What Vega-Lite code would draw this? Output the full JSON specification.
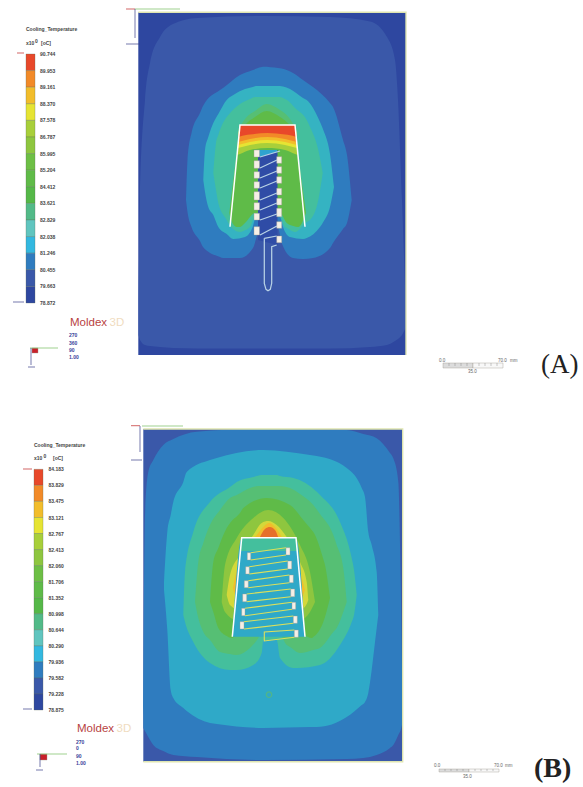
{"$schema":"https://vega.github.io/schema/vega-lite/v6.json","width":583,"height":787,"padding":0,"autosize":{"type":"fit","contains":"padding"},"background":"white","view":{"stroke":null},
"datasets":{
"regions":[
{"s":"A0","c":"c15","x":138.3,"y":12.3,"y2":355},{"s":"A0","c":"c15","x":406,"y":12.3,"y2":355},
{"s":"A1","c":"c14","x":138.5,"y":300,"y2":335},{"s":"A1","c":"c14","x":140,"y":200,"y2":340},{"s":"A1","c":"c14","x":145,"y":100,"y2":345},{"s":"A1","c":"c14","x":150,"y":63,"y2":346},{"s":"A1","c":"c14","x":160,"y":37,"y2":347},{"s":"A1","c":"c14","x":173,"y":24,"y2":348},{"s":"A1","c":"c14","x":197,"y":18,"y2":348.5},{"s":"A1","c":"c14","x":263,"y":16,"y2":348.5},{"s":"A1","c":"c14","x":330,"y":17,"y2":348.5},{"s":"A1","c":"c14","x":370,"y":21.5,"y2":347},{"s":"A1","c":"c14","x":387,"y":37,"y2":345},{"s":"A1","c":"c14","x":395,"y":60,"y2":341},{"s":"A1","c":"c14","x":398,"y":100,"y2":339},{"s":"A1","c":"c14","x":402,"y":200,"y2":335},{"s":"A1","c":"c14","x":405.5,"y":300,"y2":328},
{"s":"A2","c":"c13","x":186,"y":200,"y2":200},{"s":"A2","c":"c13","x":187.5,"y":160,"y2":212},{"s":"A2","c":"c13","x":191.5,"y":133,"y2":227},{"s":"A2","c":"c13","x":200,"y":113,"y2":241},{"s":"A2","c":"c13","x":203,"y":106,"y2":247},{"s":"A2","c":"c13","x":220,"y":90,"y2":257},{"s":"A2","c":"c13","x":223,"y":88,"y2":258},{"s":"A2","c":"c13","x":240,"y":75,"y2":258},{"s":"A2","c":"c13","x":253,"y":70,"y2":248},{"s":"A2","c":"c13","x":258,"y":68,"y2":233},{"s":"A2","c":"c13","x":263,"y":66.7,"y2":228},{"s":"A2","c":"c13","x":278,"y":68,"y2":228},{"s":"A2","c":"c13","x":281.7,"y":68.5,"y2":243},{"s":"A2","c":"c13","x":293,"y":73,"y2":258},{"s":"A2","c":"c13","x":303,"y":80,"y2":259},{"s":"A2","c":"c13","x":313,"y":87,"y2":258},{"s":"A2","c":"c13","x":330,"y":103,"y2":248},{"s":"A2","c":"c13","x":333,"y":107,"y2":243},{"s":"A2","c":"c13","x":343,"y":140,"y2":229},{"s":"A2","c":"c13","x":347,"y":155,"y2":223},{"s":"A2","c":"c13","x":351.7,"y":200,"y2":200},
{"s":"A3","c":"t1","x":203.3,"y":180,"y2":180},{"s":"A3","c":"t1","x":205,"y":150,"y2":192},{"s":"A3","c":"t1","x":208.3,"y":137,"y2":207},{"s":"A3","c":"t1","x":213.3,"y":123,"y2":215},{"s":"A3","c":"t1","x":218.3,"y":114,"y2":227},{"s":"A3","c":"t1","x":226.7,"y":100,"y2":234},{"s":"A3","c":"t1","x":233.3,"y":95,"y2":239},{"s":"A3","c":"t1","x":245,"y":89,"y2":237},{"s":"A3","c":"t1","x":252.7,"y":87,"y2":227},{"s":"A3","c":"t1","x":256,"y":86,"y2":217},{"s":"A3","c":"t1","x":280,"y":86,"y2":217},{"s":"A3","c":"t1","x":283,"y":86.5,"y2":227},{"s":"A3","c":"t1","x":290,"y":89,"y2":237},{"s":"A3","c":"t1","x":303,"y":98,"y2":239},{"s":"A3","c":"t1","x":306.7,"y":100,"y2":238},{"s":"A3","c":"t1","x":320,"y":122,"y2":227},{"s":"A3","c":"t1","x":323.3,"y":130,"y2":222},{"s":"A3","c":"t1","x":330,"y":154,"y2":207},{"s":"A3","c":"t1","x":334,"y":187,"y2":187},
{"s":"A4","c":"t2","x":213.3,"y":173,"y2":173},{"s":"A4","c":"t2","x":216,"y":143,"y2":190},{"s":"A4","c":"t2","x":218.3,"y":135,"y2":203},{"s":"A4","c":"t2","x":226.7,"y":117,"y2":220},{"s":"A4","c":"t2","x":228.3,"y":115,"y2":223},{"s":"A4","c":"t2","x":240,"y":104,"y2":232},{"s":"A4","c":"t2","x":243.3,"y":102,"y2":231},{"s":"A4","c":"t2","x":250,"y":99,"y2":227},{"s":"A4","c":"t2","x":255,"y":97,"y2":217},{"s":"A4","c":"t2","x":280,"y":97,"y2":217},{"s":"A4","c":"t2","x":285,"y":99,"y2":227},{"s":"A4","c":"t2","x":287,"y":100,"y2":228},{"s":"A4","c":"t2","x":295,"y":108,"y2":232},{"s":"A4","c":"t2","x":306.7,"y":120,"y2":222},{"s":"A4","c":"t2","x":310,"y":127,"y2":220},{"s":"A4","c":"t2","x":318.3,"y":150,"y2":200},{"s":"A4","c":"t2","x":322.7,"y":173,"y2":173},
{"s":"A4b","c":"t5","x":238,"y":130,"y2":130},{"s":"A4b","c":"t5","x":246.7,"y":117,"y2":130},{"s":"A4b","c":"t5","x":255,"y":111,"y2":130},{"s":"A4b","c":"t5","x":266.7,"y":104,"y2":130},{"s":"A4b","c":"t5","x":280,"y":110,"y2":130},{"s":"A4b","c":"t5","x":286.7,"y":115,"y2":130},{"s":"A4b","c":"t5","x":297,"y":130,"y2":130},
{"s":"A5","c":"c08","x":229.3,"y":213,"y2":213},{"s":"A5","c":"c08","x":231,"y":199,"y2":220},{"s":"A5","c":"c08","x":236.7,"y":154,"y2":227},{"s":"A5","c":"c08","x":240,"y":132,"y2":227},{"s":"A5","c":"c08","x":245,"y":125,"y2":223},{"s":"A5","c":"c08","x":255,"y":117,"y2":213},{"s":"A5","c":"c08","x":266.7,"y":111,"y2":213},{"s":"A5","c":"c08","x":280,"y":117,"y2":213},{"s":"A5","c":"c08","x":286.7,"y":122,"y2":223},{"s":"A5","c":"c08","x":293.3,"y":130,"y2":226},{"s":"A5","c":"c08","x":298.3,"y":159,"y2":227},{"s":"A5","c":"c08","x":306,"y":213,"y2":213},
{"s":"A6","c":"c05","x":237,"y":155,"y2":155},{"s":"A6","c":"c05","x":240,"y":125,"y2":154},{"s":"A6","c":"c05","x":250,"y":125,"y2":150},{"s":"A6","c":"c05","x":267.5,"y":125,"y2":148},{"s":"A6","c":"c05","x":285,"y":125,"y2":150},{"s":"A6","c":"c05","x":295,"y":125,"y2":154},{"s":"A6","c":"c05","x":298,"y":155,"y2":155},
{"s":"A7","c":"c04","x":237.7,"y":148,"y2":148},{"s":"A7","c":"c04","x":240,"y":125,"y2":147.5},{"s":"A7","c":"c04","x":250,"y":125,"y2":145},{"s":"A7","c":"c04","x":267.5,"y":125,"y2":143},{"s":"A7","c":"c04","x":285,"y":125,"y2":145},{"s":"A7","c":"c04","x":295,"y":125,"y2":147.5},{"s":"A7","c":"c04","x":297.3,"y":148,"y2":148},
{"s":"A8","c":"c03","x":238,"y":145,"y2":145},{"s":"A8","c":"c03","x":240,"y":125,"y2":144.5},{"s":"A8","c":"c03","x":250,"y":125,"y2":142},{"s":"A8","c":"c03","x":267.5,"y":125,"y2":140},{"s":"A8","c":"c03","x":285,"y":125,"y2":142},{"s":"A8","c":"c03","x":295,"y":125,"y2":144.5},{"s":"A8","c":"c03","x":297,"y":145,"y2":145},
{"s":"A9","c":"c02","x":238.3,"y":142,"y2":142},{"s":"A9","c":"c02","x":240,"y":125,"y2":141.5},{"s":"A9","c":"c02","x":250,"y":125,"y2":139},{"s":"A9","c":"c02","x":267.5,"y":125,"y2":137},{"s":"A9","c":"c02","x":285,"y":125,"y2":139},{"s":"A9","c":"c02","x":295,"y":125,"y2":141.5},{"s":"A9","c":"c02","x":296.7,"y":142,"y2":142},
{"s":"A10","c":"c01","x":238.8,"y":137,"y2":137},{"s":"A10","c":"c01","x":240,"y":125,"y2":136.5},{"s":"A10","c":"c01","x":250,"y":125,"y2":134.5},{"s":"A10","c":"c01","x":267.5,"y":125,"y2":133},{"s":"A10","c":"c01","x":285,"y":125,"y2":134.5},{"s":"A10","c":"c01","x":295,"y":125,"y2":136.5},{"s":"A10","c":"c01","x":296.2,"y":137,"y2":137},
{"s":"A11","c":"c16","x":258,"y":150,"y2":240},{"s":"A11","c":"c16","x":277.5,"y":150,"y2":245},
{"s":"A12","c":"t3","x":259,"y":150,"y2":157},{"s":"A12","c":"t3","x":277,"y":150,"y2":152},
{"s":"B0","c":"c14","x":143.3,"y":429,"y2":761.7},{"s":"B0","c":"c14","x":402.7,"y":429,"y2":761.7},
{"s":"B1","c":"c13","x":143.3,"y":715,"y2":728},{"s":"B1","c":"c13","x":145,"y":515,"y2":731},{"s":"B1","c":"c13","x":148.3,"y":472,"y2":737},{"s":"B1","c":"c13","x":153.3,"y":460,"y2":745},{"s":"B1","c":"c13","x":163.3,"y":445,"y2":751},{"s":"B1","c":"c13","x":173.3,"y":439,"y2":755},{"s":"B1","c":"c13","x":196.7,"y":431.7,"y2":757},{"s":"B1","c":"c13","x":263.3,"y":429,"y2":760},{"s":"B1","c":"c13","x":346.7,"y":430,"y2":759},{"s":"B1","c":"c13","x":363.3,"y":434,"y2":758},{"s":"B1","c":"c13","x":376.7,"y":438.3,"y2":755},{"s":"B1","c":"c13","x":390,"y":453,"y2":748},{"s":"B1","c":"c13","x":393.3,"y":458.3,"y2":745},{"s":"B1","c":"c13","x":398.3,"y":481.7,"y2":735},{"s":"B1","c":"c13","x":400.7,"y":581.7,"y2":730},{"s":"B1","c":"c13","x":402.7,"y":715,"y2":722},
{"s":"B2","c":"t4","x":164,"y":582,"y2":590},{"s":"B2","c":"t4","x":167.3,"y":532,"y2":630},{"s":"B2","c":"t4","x":170.7,"y":515,"y2":690},{"s":"B2","c":"t4","x":173.3,"y":502,"y2":698},{"s":"B2","c":"t4","x":183.3,"y":482,"y2":708},{"s":"B2","c":"t4","x":186.7,"y":472,"y2":711},{"s":"B2","c":"t4","x":210,"y":460,"y2":723},{"s":"B2","c":"t4","x":216.7,"y":458,"y2":724},{"s":"B2","c":"t4","x":263.3,"y":450,"y2":728},{"s":"B2","c":"t4","x":310,"y":455,"y2":727},{"s":"B2","c":"t4","x":316.7,"y":456,"y2":727},{"s":"B2","c":"t4","x":346.7,"y":468,"y2":717},{"s":"B2","c":"t4","x":361.7,"y":488,"y2":705},{"s":"B2","c":"t4","x":365,"y":497,"y2":702},{"s":"B2","c":"t4","x":368.3,"y":532,"y2":693},{"s":"B2","c":"t4","x":371.7,"y":545,"y2":670},{"s":"B2","c":"t4","x":376.7,"y":572,"y2":628},{"s":"B2","c":"t4","x":378.3,"y":615,"y2":615},
{"s":"B3","c":"t2","x":183.3,"y":615,"y2":615},{"s":"B3","c":"t2","x":185,"y":572,"y2":622},{"s":"B3","c":"t2","x":193.3,"y":532,"y2":642},{"s":"B3","c":"t2","x":210,"y":502,"y2":663},{"s":"B3","c":"t2","x":230,"y":487,"y2":670},{"s":"B3","c":"t2","x":236.7,"y":482,"y2":670},{"s":"B3","c":"t2","x":253.3,"y":477,"y2":665},{"s":"B3","c":"t2","x":261.7,"y":475,"y2":653},{"s":"B3","c":"t2","x":263.3,"y":475,"y2":640},{"s":"B3","c":"t2","x":276.7,"y":475,"y2":640},{"s":"B3","c":"t2","x":280,"y":476,"y2":658},{"s":"B3","c":"t2","x":293.3,"y":478,"y2":668},{"s":"B3","c":"t2","x":296.7,"y":479,"y2":668},{"s":"B3","c":"t2","x":320,"y":495,"y2":665},{"s":"B3","c":"t2","x":340,"y":522,"y2":645},{"s":"B3","c":"t2","x":351.7,"y":558,"y2":622},{"s":"B3","c":"t2","x":354,"y":570,"y2":615},{"s":"B3","c":"t2","x":356.7,"y":595,"y2":595},
{"s":"B4","c":"t5","x":195,"y":602,"y2":602},{"s":"B4","c":"t5","x":198.3,"y":562,"y2":618},{"s":"B4","c":"t5","x":203.3,"y":543,"y2":632},{"s":"B4","c":"t5","x":210,"y":525,"y2":640},{"s":"B4","c":"t5","x":220,"y":510,"y2":652},{"s":"B4","c":"t5","x":230,"y":498,"y2":654},{"s":"B4","c":"t5","x":236.7,"y":495,"y2":655},{"s":"B4","c":"t5","x":250,"y":488,"y2":648},{"s":"B4","c":"t5","x":258.3,"y":486,"y2":638},{"s":"B4","c":"t5","x":261.7,"y":486,"y2":632},{"s":"B4","c":"t5","x":278.3,"y":486,"y2":632},{"s":"B4","c":"t5","x":286.7,"y":487,"y2":645},{"s":"B4","c":"t5","x":290,"y":488,"y2":647},{"s":"B4","c":"t5","x":300,"y":494,"y2":653},{"s":"B4","c":"t5","x":313.3,"y":505,"y2":650},{"s":"B4","c":"t5","x":320,"y":514,"y2":648},{"s":"B4","c":"t5","x":333.3,"y":535,"y2":632},{"s":"B4","c":"t5","x":336.7,"y":545,"y2":628},{"s":"B4","c":"t5","x":343.3,"y":568,"y2":612},{"s":"B4","c":"t5","x":346.7,"y":602,"y2":602},
{"s":"B5","c":"c08","x":210,"y":602,"y2":602},{"s":"B5","c":"c08","x":213.3,"y":562,"y2":612},{"s":"B5","c":"c08","x":218.3,"y":548,"y2":628},{"s":"B5","c":"c08","x":226.7,"y":528,"y2":636},{"s":"B5","c":"c08","x":231.7,"y":521,"y2":638},{"s":"B5","c":"c08","x":240,"y":513,"y2":633},{"s":"B5","c":"c08","x":243.3,"y":508,"y2":632},{"s":"B5","c":"c08","x":266.7,"y":498,"y2":630},{"s":"B5","c":"c08","x":290,"y":505,"y2":632},{"s":"B5","c":"c08","x":303.3,"y":520,"y2":635},{"s":"B5","c":"c08","x":311.7,"y":530,"y2":638},{"s":"B5","c":"c08","x":313.3,"y":532,"y2":637},{"s":"B5","c":"c08","x":323.3,"y":559,"y2":622},{"s":"B5","c":"c08","x":325,"y":565,"y2":617},{"s":"B5","c":"c08","x":330,"y":598,"y2":598},
{"s":"B6","c":"c06","x":221.7,"y":602,"y2":602},{"s":"B6","c":"c06","x":225,"y":565,"y2":612},{"s":"B6","c":"c06","x":236.7,"y":538,"y2":620},{"s":"B6","c":"c06","x":253.3,"y":518,"y2":620},{"s":"B6","c":"c06","x":268.3,"y":510,"y2":620},{"s":"B6","c":"c06","x":283.3,"y":518,"y2":620},{"s":"B6","c":"c06","x":300,"y":545,"y2":620},{"s":"B6","c":"c06","x":310,"y":572,"y2":612},{"s":"B6","c":"c06","x":315,"y":602,"y2":602},
{"s":"B7","c":"t6","x":226.7,"y":595,"y2":595},{"s":"B7","c":"t6","x":230,"y":575,"y2":605},{"s":"B7","c":"t6","x":240,"y":555,"y2":610},{"s":"B7","c":"t6","x":253.3,"y":535,"y2":610},{"s":"B7","c":"t6","x":261.7,"y":523,"y2":610},{"s":"B7","c":"t6","x":268.3,"y":521,"y2":610},{"s":"B7","c":"t6","x":276.7,"y":525,"y2":610},{"s":"B7","c":"t6","x":286.7,"y":537,"y2":610},{"s":"B7","c":"t6","x":300,"y":562,"y2":610},{"s":"B7","c":"t6","x":306.7,"y":582,"y2":604},{"s":"B7","c":"t6","x":308.3,"y":600,"y2":600},
{"s":"B8","c":"c03","x":233,"y":588,"y2":588},{"s":"B8","c":"c03","x":238,"y":565,"y2":600},{"s":"B8","c":"c03","x":245,"y":550,"y2":600},{"s":"B8","c":"c03","x":256.7,"y":535,"y2":600},{"s":"B8","c":"c03","x":263.3,"y":527,"y2":600},{"s":"B8","c":"c03","x":269.3,"y":523,"y2":600},{"s":"B8","c":"c03","x":275,"y":527,"y2":600},{"s":"B8","c":"c03","x":281.7,"y":537,"y2":600},{"s":"B8","c":"c03","x":290,"y":555,"y2":600},{"s":"B8","c":"c03","x":300,"y":572,"y2":600},{"s":"B8","c":"c03","x":305,"y":590,"y2":590},
{"s":"B9","c":"t7","x":260,"y":537,"y2":538},{"s":"B9","c":"t7","x":265,"y":529,"y2":538},{"s":"B9","c":"t7","x":270,"y":527,"y2":538},{"s":"B9","c":"t7","x":275,"y":530,"y2":538},{"s":"B9","c":"t7","x":278.3,"y":537.5,"y2":538},
{"s":"B10","c":"t4","x":232.3,"y":636.7,"y2":636.7},{"s":"B10","c":"t4","x":241.7,"y":537.7,"y2":636.7},{"s":"B10","c":"t4","x":296,"y":537.7,"y2":636.7},{"s":"B10","c":"t4","x":305,"y":636.7,"y2":636.7},
{"s":"B11","c":"t2","x":240.5,"y":551,"y2":551},{"s":"B11","c":"t2","x":241.7,"y":537.7,"y2":551},{"s":"B11","c":"t2","x":296,"y":537.7,"y2":551},{"s":"B11","c":"t2","x":297.3,"y":551,"y2":551}
],
"legend":[
{"c":"c01","x":26,"x2":35,"y":54,"y2":70.6},{"c":"c02","x":26,"x2":35,"y":70.6,"y2":87.2},{"c":"c03","x":26,"x2":35,"y":87.2,"y2":103.8},{"c":"c04","x":26,"x2":35,"y":103.8,"y2":120.4},{"c":"c05","x":26,"x2":35,"y":120.4,"y2":137},{"c":"c06","x":26,"x2":35,"y":137,"y2":153.6},{"c":"c07","x":26,"x2":35,"y":153.6,"y2":170.2},{"c":"c08","x":26,"x2":35,"y":170.2,"y2":186.8},{"c":"c09","x":26,"x2":35,"y":186.8,"y2":203.4},{"c":"c10","x":26,"x2":35,"y":203.4,"y2":220},{"c":"c11","x":26,"x2":35,"y":220,"y2":236.6},{"c":"c12","x":26,"x2":35,"y":236.6,"y2":253.2},{"c":"c13","x":26,"x2":35,"y":253.2,"y2":269.8},{"c":"c14","x":26,"x2":35,"y":269.8,"y2":286.4},{"c":"c15","x":26,"x2":35,"y":286.4,"y2":303},
{"c":"c01","x":34,"x2":43,"y":469.3,"y2":485.4},{"c":"c02","x":34,"x2":43,"y":485.4,"y2":501.4},{"c":"c03","x":34,"x2":43,"y":501.4,"y2":517.5},{"c":"c04","x":34,"x2":43,"y":517.5,"y2":533.5},{"c":"c05","x":34,"x2":43,"y":533.5,"y2":549.6},{"c":"c06","x":34,"x2":43,"y":549.6,"y2":565.6},{"c":"c07","x":34,"x2":43,"y":565.6,"y2":581.7},{"c":"c08","x":34,"x2":43,"y":581.7,"y2":597.7},{"c":"c09","x":34,"x2":43,"y":597.7,"y2":613.8},{"c":"c10","x":34,"x2":43,"y":613.8,"y2":629.8},{"c":"c11","x":34,"x2":43,"y":629.8,"y2":645.9},{"c":"c12","x":34,"x2":43,"y":645.9,"y2":661.9},{"c":"c13","x":34,"x2":43,"y":661.9,"y2":678},{"c":"c14","x":34,"x2":43,"y":678,"y2":694},{"c":"c15","x":34,"x2":43,"y":694,"y2":710}
],
"squares":[
{"c":"w","x":254,"x2":259.5,"y":150,"y2":157},{"c":"w","x":254,"x2":259.5,"y":160.7,"y2":168.3},{"c":"w","x":254,"x2":259.5,"y":171.7,"y2":178.3},{"c":"w","x":254,"x2":259.5,"y":181.7,"y2":188.3},{"c":"w","x":254,"x2":259.5,"y":191.7,"y2":200},{"c":"w","x":254,"x2":259.5,"y":202.7,"y2":210},{"c":"w","x":254,"x2":259.5,"y":213.3,"y2":220},{"c":"w","x":254,"x2":259.5,"y":226.7,"y2":235},
{"c":"w","x":276.7,"x2":281.7,"y":156.7,"y2":163.3},{"c":"w","x":276.7,"x2":281.7,"y":166.7,"y2":173.3},{"c":"w","x":276.7,"x2":281.7,"y":176.7,"y2":183.3},{"c":"w","x":276.7,"x2":281.7,"y":188.3,"y2":195},{"c":"w","x":276.7,"x2":281.7,"y":198.3,"y2":205},{"c":"w","x":276.7,"x2":281.7,"y":208.3,"y2":216.7},{"c":"w","x":276.7,"x2":281.7,"y":221.7,"y2":228.3},{"c":"w","x":276.7,"x2":281.7,"y":236,"y2":242.7},
{"c":"w","x":247.3,"x2":250.7,"y":552.7,"y2":560},{"c":"w","x":286,"x2":290,"y":547.7,"y2":555},{"c":"w","x":245.7,"x2":249.3,"y":566.7,"y2":574},{"c":"w","x":287.7,"x2":291.7,"y":561,"y2":569},{"c":"w","x":244.3,"x2":248.3,"y":580.7,"y2":587.7},{"c":"w","x":289.3,"x2":293.3,"y":575,"y2":582.7},{"c":"w","x":242.7,"x2":246.7,"y":594,"y2":601.7},{"c":"w","x":290.7,"x2":294.7,"y":589,"y2":596.7},{"c":"w","x":241.7,"x2":245,"y":608.3,"y2":615.7},{"c":"w","x":292,"x2":295.7,"y":602.3,"y2":609.3},{"c":"w","x":240,"x2":244,"y":621.7,"y2":629},{"c":"w","x":293.3,"x2":297.3,"y":616,"y2":623.3},{"c":"w","x":294.3,"x2":298.3,"y":630,"y2":637.3},
{"c":"g1","x":443,"x2":473,"y":363,"y2":368},{"c":"g2","x":473,"x2":503,"y":363,"y2":368},{"c":"g1","x":439,"x2":469,"y":769,"y2":772},{"c":"g2","x":469,"x2":499,"y":769,"y2":772},
{"c":"r","x":32,"x2":38,"y":348,"y2":353},{"c":"r","x":40,"x2":47,"y":754,"y2":760}
],
"paths":[
{"p":"fa","k":"frame","x":230,"y":226.7},{"p":"fa","k":"frame","x":240,"y":125},{"p":"fa","k":"frame","x":295,"y":125},{"p":"fa","k":"frame","x":305,"y":226.7},
{"p":"fb","k":"frame","x":232.3,"y":636.7},{"p":"fb","k":"frame","x":241.7,"y":537.7},{"p":"fb","k":"frame","x":296,"y":537.7},{"p":"fb","k":"frame","x":305,"y":636.7},
{"p":"oa","k":"outline","x":138.3,"y":12.3},{"p":"oa","k":"outline","x":406,"y":12.3},{"p":"oa","k":"outline","x":406,"y":355},
{"p":"ob","k":"outline","x":143.3,"y":429},{"p":"ob","k":"outline","x":402.7,"y":429},{"p":"ob","k":"outline","x":402.7,"y":761.7},{"p":"ob","k":"outline","x":143.3,"y":761.7},
{"p":"ru","k":"runner","x":264.3,"y":238.3},{"p":"ru","k":"runner","x":264.3,"y":283.3},{"p":"ru","k":"runner","x":266,"y":289.3},{"p":"ru","k":"runner","x":268,"y":290.7},{"p":"ru","k":"runner","x":270.3,"y":289.3},{"p":"ru","k":"runner","x":271.7,"y":283.3},{"p":"ru","k":"runner","x":271.7,"y":246.7},{"p":"ru","k":"runner","x":276.7,"y":245},
{"p":"ru2","k":"runner","x":264.3,"y":238.3},{"p":"ru2","k":"runner","x":276.7,"y":236},
{"p":"r1","k":"runner","x":260,"y":157},{"p":"r1","k":"runner","x":280,"y":151},{"p":"r2","k":"runner","x":260,"y":168},{"p":"r2","k":"runner","x":277,"y":160},{"p":"r3","k":"runner","x":260,"y":178},{"p":"r3","k":"runner","x":277,"y":171},{"p":"r4","k":"runner","x":260,"y":188},{"p":"r4","k":"runner","x":277,"y":181},{"p":"r5","k":"runner","x":260,"y":200},{"p":"r5","k":"runner","x":277,"y":193},{"p":"r6","k":"runner","x":260,"y":210},{"p":"r6","k":"runner","x":277,"y":203},{"p":"r7","k":"runner","x":260,"y":220},{"p":"r7","k":"runner","x":277,"y":214},{"p":"r8","k":"runner","x":260,"y":235},{"p":"r8","k":"runner","x":277,"y":226},
{"p":"y1a","k":"rung","x":250.7,"y":552.7},{"p":"y1a","k":"rung","x":286,"y":547.7},{"p":"y1b","k":"rung","x":250.7,"y":560},{"p":"y1b","k":"rung","x":286,"y":555},
{"p":"y2a","k":"rung","x":249.3,"y":566.7},{"p":"y2a","k":"rung","x":287.7,"y":561},{"p":"y2b","k":"rung","x":249.3,"y":574},{"p":"y2b","k":"rung","x":287.7,"y":569},
{"p":"y3a","k":"rung","x":248.3,"y":580.7},{"p":"y3a","k":"rung","x":289.3,"y":575},{"p":"y3b","k":"rung","x":248.3,"y":587.7},{"p":"y3b","k":"rung","x":289.3,"y":582.7},
{"p":"y4a","k":"rung","x":246.7,"y":594},{"p":"y4a","k":"rung","x":290.7,"y":589},{"p":"y4b","k":"rung","x":246.7,"y":601.7},{"p":"y4b","k":"rung","x":290.7,"y":596.7},
{"p":"y5a","k":"rung","x":245,"y":608.3},{"p":"y5a","k":"rung","x":292,"y":602.3},{"p":"y5b","k":"rung","x":245,"y":615.7},{"p":"y5b","k":"rung","x":292,"y":609.3},
{"p":"y6a","k":"rung","x":244,"y":621.7},{"p":"y6a","k":"rung","x":293.3,"y":616},{"p":"y6b","k":"rung","x":244,"y":629},{"p":"y6b","k":"rung","x":293.3,"y":623.3},
{"p":"y7","k":"rung","x":294.3,"y":630},{"p":"y7","k":"rung","x":264.3,"y":632},{"p":"y7","k":"rung","x":264.3,"y":641},{"p":"y7","k":"rung","x":294.3,"y":637.3},
{"p":"t1r","k":"red","x":126,"y":9},{"p":"t1r","k":"red","x":135,"y":9},{"p":"t1g","k":"green","x":135,"y":9},{"p":"t1g","k":"green","x":180,"y":9},{"p":"t1b","k":"blue","x":135,"y":9},{"p":"t1b","k":"blue","x":135,"y":38},{"p":"t1f","k":"blue","x":126,"y":44},{"p":"t1f","k":"blue","x":140,"y":44},
{"p":"t2r","k":"red","x":131,"y":425.7},{"p":"t2r","k":"red","x":140,"y":425.7},{"p":"t2g","k":"green","x":142,"y":426},{"p":"t2g","k":"green","x":183,"y":426},{"p":"t2b","k":"blue","x":140,"y":426},{"p":"t2b","k":"blue","x":140,"y":452},{"p":"t2f","k":"blue","x":131,"y":460},{"p":"t2f","k":"blue","x":142,"y":460},
{"p":"t3g","k":"green","x":30,"y":348},{"p":"t3g","k":"green","x":58,"y":348},{"p":"t3b","k":"blue","x":31,"y":348},{"p":"t3b","k":"blue","x":31,"y":365},{"p":"t3f","k":"blue","x":28,"y":367},{"p":"t3f","k":"blue","x":35,"y":367},
{"p":"t4g","k":"green","x":37,"y":754},{"p":"t4g","k":"green","x":67,"y":754},{"p":"t4b","k":"blue","x":40,"y":754},{"p":"t4b","k":"blue","x":40,"y":767},{"p":"t4f","k":"blue","x":36,"y":770},{"p":"t4f","k":"blue","x":43,"y":770},
{"p":"ar1","k":"red","x":17,"y":53},{"p":"ar1","k":"red","x":24,"y":53},{"p":"ar2","k":"blue","x":13,"y":302},{"p":"ar2","k":"blue","x":24,"y":302},{"p":"ar3","k":"red","x":23,"y":469},{"p":"ar3","k":"red","x":32,"y":469},{"p":"ar4","k":"blue","x":23,"y":709},{"p":"ar4","k":"blue","x":32,"y":709}
],
"ticks":[
{"x":449,"y":363,"y2":366},{"x":455,"y":363,"y2":366},{"x":461,"y":363,"y2":366},{"x":467,"y":363,"y2":366},{"x":479,"y":363,"y2":366},{"x":485,"y":363,"y2":366},{"x":491,"y":363,"y2":366},{"x":497,"y":363,"y2":366},
{"x":445,"y":769,"y2":771},{"x":451,"y":769,"y2":771},{"x":457,"y":769,"y2":771},{"x":463,"y":769,"y2":771},{"x":475,"y":769,"y2":771},{"x":481,"y":769,"y2":771},{"x":487,"y":769,"y2":771},{"x":493,"y":769,"y2":771}
],
"marker":[{"x":269,"y":694.7}],
"texts":[
{"k":"lab","t":"Cooling_Temperature","x":26,"y":29},{"k":"lab","t":"x10","x":26,"y":43},{"k":"lab","t":"0","x":35,"y":41},{"k":"lab","t":"[oC]","x":41,"y":43},
{"k":"lab","t":"90.744","x":40,"y":54},{"k":"lab","t":"89.953","x":40,"y":70.6},{"k":"lab","t":"89.161","x":40,"y":87.2},{"k":"lab","t":"88.370","x":40,"y":103.8},{"k":"lab","t":"87.578","x":40,"y":120.4},{"k":"lab","t":"86.787","x":40,"y":137},{"k":"lab","t":"85.995","x":40,"y":153.6},{"k":"lab","t":"85.204","x":40,"y":170.2},{"k":"lab","t":"84.412","x":40,"y":186.8},{"k":"lab","t":"83.621","x":40,"y":203.4},{"k":"lab","t":"82.829","x":40,"y":220},{"k":"lab","t":"82.038","x":40,"y":236.6},{"k":"lab","t":"81.246","x":40,"y":253.2},{"k":"lab","t":"80.455","x":40,"y":269.8},{"k":"lab","t":"79.663","x":40,"y":286.4},{"k":"lab","t":"78.872","x":40,"y":303},
{"k":"lab","t":"Cooling_Temperature","x":34,"y":445},{"k":"lab","t":"x10","x":34,"y":458},{"k":"lab","t":"0","x":43.5,"y":456},{"k":"lab","t":"[oC]","x":53,"y":458},
{"k":"lab","t":"84.183","x":48.5,"y":469.3},{"k":"lab","t":"83.829","x":48.5,"y":485.4},{"k":"lab","t":"83.475","x":48.5,"y":501.4},{"k":"lab","t":"83.121","x":48.5,"y":517.5},{"k":"lab","t":"82.767","x":48.5,"y":533.5},{"k":"lab","t":"82.413","x":48.5,"y":549.6},{"k":"lab","t":"82.060","x":48.5,"y":565.6},{"k":"lab","t":"81.706","x":48.5,"y":581.7},{"k":"lab","t":"81.352","x":48.5,"y":597.7},{"k":"lab","t":"80.998","x":48.5,"y":613.8},{"k":"lab","t":"80.644","x":48.5,"y":629.8},{"k":"lab","t":"80.290","x":48.5,"y":645.9},{"k":"lab","t":"79.936","x":48.5,"y":661.9},{"k":"lab","t":"79.582","x":48.5,"y":678},{"k":"lab","t":"79.228","x":48.5,"y":694},{"k":"lab","t":"78.875","x":48.5,"y":710},
{"k":"num","t":"270","x":69,"y":335},{"k":"num","t":"360","x":69,"y":342.7},{"k":"num","t":"90","x":69,"y":350},{"k":"num","t":"1.00","x":69,"y":357},
{"k":"num","t":"270","x":76,"y":741.7},{"k":"num","t":"0","x":76,"y":748},{"k":"num","t":"90","x":76,"y":755.7},{"k":"num","t":"1.00","x":76,"y":763},
{"k":"logo","t":"Moldex","x":70,"y":323},{"k":"logo","t":"Moldex","x":77,"y":729},
{"k":"logo3","t":"3D","x":109.5,"y":323},{"k":"logo3","t":"3D","x":116.5,"y":729},
{"k":"scale","t":"0.0","x":439,"y":360.5},{"k":"scale","t":"70.0","x":498,"y":360.5},{"k":"scale","t":"mm","x":510,"y":361},{"k":"scale","t":"35.0","x":468,"y":372},
{"k":"scale","t":"0.0","x":434,"y":766},{"k":"scale","t":"70.0","x":494,"y":766},{"k":"scale","t":"mm","x":505,"y":766},{"k":"scale","t":"35.0","x":463,"y":777},
{"k":"panelA","t":"(A)","x":541,"y":365},
{"k":"panelB","t":"(B)","x":534,"y":769}
]},
"encoding":{
"x":{"field":"x","type":"quantitative","axis":null,"scale":{"domain":[0,583],"nice":false,"zero":false}},
"y":{"field":"y","type":"quantitative","axis":null,"scale":{"domain":[787,0],"nice":false,"zero":false}}},
"layer":[
{"data":{"name":"regions"},"mark":{"type":"area","orient":"vertical","interpolate":"monotone"},"encoding":{"y2":{"field":"y2"},"detail":{"field":"s"},"color":{"field":"c","type":"nominal","legend":null,"scale":{"domain":["c01","c02","c03","c04","c05","c06","c07","c08","c09","c10","c11","c12","c13","c14","c15","c16","t1","t2","t3","t4","t5","t6","t7","w","g1","g2","r"],"range":["#e8482a","#f28a28","#f2bd2b","#e6e433","#a8cf3a","#8ec63f","#6dbf45","#5fbb48","#55b848","#52ba88","#60c5bf","#33b8e0","#2f7cbf","#3a58a9","#2e47a0","#2f4ca6","#35b3c2","#44bf9d","#2fa3cf","#2fa9c8","#56bf74","#d4d83a","#e6702a","#f5efe6","#dcdcdc","#f8f8f8","#c8202a"]}}}},
{"data":{"name":"legend"},"mark":{"type":"rect","stroke":"#5a6a50","strokeWidth":0.3},"encoding":{"x2":{"field":"x2"},"y2":{"field":"y2"},"color":{"field":"c","type":"nominal","legend":null}}},
{"data":{"name":"squares"},"mark":{"type":"rect","stroke":"#a09a90","strokeWidth":0.4},"encoding":{"x2":{"field":"x2"},"y2":{"field":"y2"},"color":{"field":"c","type":"nominal","legend":null}}},
{"data":{"name":"paths"},"mark":{"type":"line"},"encoding":{"order":{"value":null},"detail":{"field":"p"},"stroke":{"field":"k","type":"nominal","legend":null,"scale":{"domain":["frame","outline","runner","rung","red","green","blue"],"range":["#ffffff","#dfe5b0","#b9d3e6","#dbe05c","#d06060","#8cc878","#3a3f8a"]}},"strokeWidth":{"field":"k","type":"nominal","legend":null,"scale":{"domain":["frame","outline","runner","rung","red","green","blue"],"range":[1.5,0.7,0.5,0.7,1,1.1,1]}}}},
{"data":{"name":"ticks"},"mark":{"type":"rule","stroke":"#777777","strokeWidth":0.4},"encoding":{"y2":{"field":"y2"}}},
{"data":{"name":"marker"},"mark":{"type":"point","filled":false,"stroke":"#5fbb70","strokeWidth":1.2,"size":30}},
{"data":{"name":"texts"},"transform":[{"filter":"datum.k=='lab'"}],"mark":{"type":"text","align":"left","baseline":"middle","font":"Liberation Sans","fontWeight":"bold","fontSize":5,"fill":"#444444"},"encoding":{"text":{"field":"t"}}},
{"data":{"name":"texts"},"transform":[{"filter":"datum.k=='num'"}],"mark":{"type":"text","align":"left","baseline":"middle","font":"Liberation Sans","fontWeight":"bold","fontSize":5,"fill":"#3a3f9a"},"encoding":{"text":{"field":"t"}}},
{"data":{"name":"texts"},"transform":[{"filter":"datum.k=='logo'"}],"mark":{"type":"text","align":"left","baseline":"middle","font":"Liberation Sans","fontSize":11.5,"fill":"#b8423f"},"encoding":{"text":{"field":"t"}}},
{"data":{"name":"texts"},"transform":[{"filter":"datum.k=='logo3'"}],"mark":{"type":"text","align":"left","baseline":"middle","font":"Liberation Sans","fontSize":11.5,"fill":"#f0dcc0"},"encoding":{"text":{"field":"t"}}},
{"data":{"name":"texts"},"transform":[{"filter":"datum.k=='scale'"}],"mark":{"type":"text","align":"left","baseline":"middle","font":"Liberation Sans","fontSize":4.5,"fill":"#666666"},"encoding":{"text":{"field":"t"}}},
{"data":{"name":"texts"},"transform":[{"filter":"datum.k=='panelA'"}],"mark":{"type":"text","align":"left","baseline":"middle","font":"Liberation Serif","fontWeight":"normal","fontSize":27,"fill":"#222222"},"encoding":{"text":{"field":"t"}}},
{"data":{"name":"texts"},"transform":[{"filter":"datum.k=='panelB'"}],"mark":{"type":"text","align":"left","baseline":"middle","font":"Liberation Serif","fontWeight":"bold","fontSize":28,"fill":"#222222"},"encoding":{"text":{"field":"t"}}}
]}
